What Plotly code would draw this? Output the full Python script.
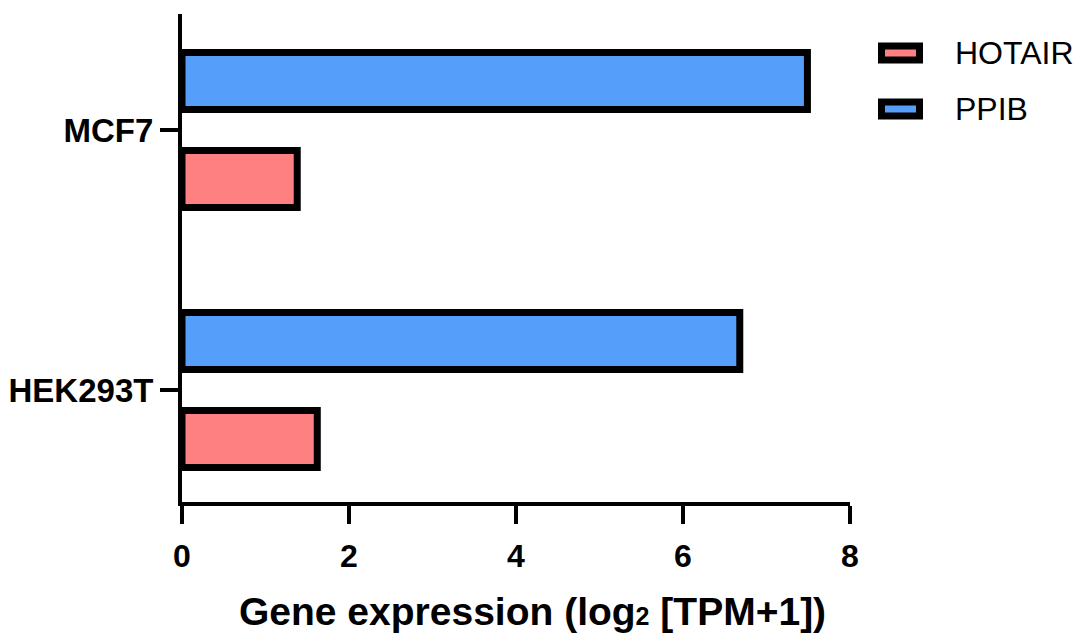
import plotly.graph_objects as go

# ---- data ----
cell_lines = ["HEK293T", "MCF7"]
series_names = ["HOTAIR", "PPIB"]
hotair_values = [1.62, 1.38]
ppib_values = [6.68, 7.49]
x_tick_values = [0, 2, 4, 6, 8]
x_tick_labels = ["0", "2", "4", "6", "8"]
x_title = 'Gene expression (log<span style="font-size:25px">2</span> [TPM+1])'

colors = {"HOTAIR": "#FF8080", "PPIB": "#559FFB"}
series_values = {"HOTAIR": hotair_values, "PPIB": ppib_values}

W, H = 1092, 635
ML, MR, MT, MB = 182, 242, 14, 133
PW, PH = W - ML - MR, H - MT - MB

BOLD = "Liberation Sans, Arial, Helvetica, sans-serif"
REG = "Liberation Sans, Arial, Helvetica, sans-serif"

fig = go.Figure()
for name in series_names:
    fig.add_trace(go.Bar(
        y=cell_lines,
        x=series_values[name],
        name=name,
        orientation="h",
        marker=dict(color=colors[name], line=dict(color="black", width=7)),
        showlegend=False,
    ))

def px_to_paper_x(px):
    return (px - ML) / PW

def px_to_paper_y(py):
    return (MT + PH - py) / PH

# custom legend (large swatches like the reference)
legend_rows = [53, 109]
for name, cy in zip(series_names, legend_rows):
    fig.add_shape(
        type="rect", xref="paper", yref="paper",
        x0=px_to_paper_x(881.5), x1=px_to_paper_x(919.5),
        y0=px_to_paper_y(cy - 7), y1=px_to_paper_y(cy + 7),
        fillcolor=colors[name], line=dict(color="black", width=7),
    )
    fig.add_annotation(
        xref="paper", yref="paper",
        x=px_to_paper_x(953), y=px_to_paper_y(cy),
        xanchor="left", yanchor="middle",
        text=name, showarrow=False,
        font=dict(family=REG, size=32, color="black"),
    )

# x-axis title as annotation (centred like the reference)
fig.add_annotation(
    xref="paper", yref="paper",
    x=px_to_paper_x(532), y=px_to_paper_y(588),
    xanchor="center", yanchor="top",
    text=x_title, showarrow=False,
    font=dict(family=BOLD, size=39, color="black", weight="bold"),
)

fig.update_layout(
    width=W, height=H,
    margin=dict(l=ML, r=MR, t=MT, b=MB, pad=0),
    paper_bgcolor="white", plot_bgcolor="white",
    barmode="group", bargap=0.246, bargroupgap=0.418,
    showlegend=False,
)
fig.update_xaxes(
    range=[0, 8], tickvals=x_tick_values, ticktext=x_tick_labels,
    automargin=False,
    showgrid=False, zeroline=False,
    showline=True, linecolor="black", linewidth=4,
    ticks="outside", ticklen=18, tickwidth=4, tickcolor="black",
    ticklabelstandoff=5,
    tickfont=dict(family=BOLD, size=32, color="black", weight="bold"),
)
fig.update_yaxes(
    type="category", range=[-0.431, 1.446],
    automargin=False,
    showgrid=False, zeroline=False,
    showline=True, linecolor="black", linewidth=4,
    ticks="outside", ticklen=18, tickwidth=4, tickcolor="black",
    ticklabelstandoff=0,
    tickfont=dict(family=BOLD, size=33, color="black", weight="bold"),
)

fig.write_html("out.html")
